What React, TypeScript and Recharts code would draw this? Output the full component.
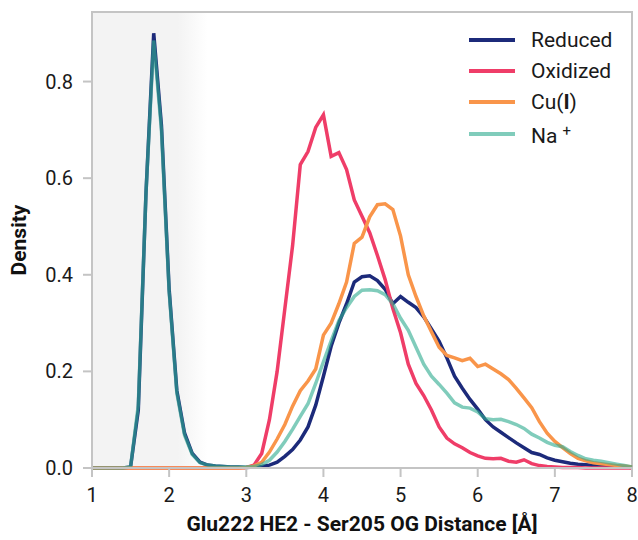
import React from "react";
import {
  LineChart,
  Line,
  XAxis,
  YAxis,
  ReferenceArea,
} from "recharts";

// distance bins (Å)
const distance = [
  1.0, 1.1, 1.2, 1.3, 1.4, 1.5, 1.6, 1.7, 1.8, 1.9,
  2.0, 2.1, 2.2, 2.3, 2.4, 2.5, 2.6, 2.7, 2.8, 2.9,
  3.0, 3.1, 3.2, 3.3, 3.4, 3.5, 3.6, 3.7, 3.8, 3.9,
  4.0, 4.1, 4.2, 4.3, 4.4, 4.5, 4.6, 4.7, 4.8, 4.9,
  5.0, 5.1, 5.2, 5.3, 5.4, 5.5, 5.6, 5.7, 5.8, 5.9,
  6.0, 6.1, 6.2, 6.3, 6.4, 6.5, 6.6, 6.7, 6.8, 6.9,
  7.0, 7.1, 7.2, 7.3, 7.4, 7.5, 7.6, 7.7, 7.8, 7.9, 8.0,
];

const reduced = [
  0, 0, 0, 0, 0, 0.002, 0.12, 0.57, 0.9, 0.71,
  0.37, 0.16, 0.072, 0.03, 0.012, 0.006, 0.004, 0.003, 0.002, 0.002,
  0.001, 0.002, 0.003, 0.006, 0.012, 0.024, 0.038, 0.058, 0.085, 0.13,
  0.19, 0.252, 0.3, 0.34, 0.385, 0.396, 0.398, 0.388, 0.37, 0.34,
  0.355, 0.343, 0.332, 0.313, 0.288, 0.262, 0.228, 0.19, 0.165, 0.142,
  0.122, 0.1, 0.085, 0.074, 0.063, 0.052, 0.042, 0.032, 0.028, 0.021,
  0.016, 0.013, 0.01, 0.008, 0.007, 0.005, 0.005, 0.004, 0.003, 0.002, 0.001,
];

const oxidized = [
  0, 0, 0, 0, 0, 0, 0, 0, 0, 0,
  0, 0, 0, 0, 0, 0, 0, 0, 0, 0,
  0.001, 0.006, 0.03, 0.1, 0.2, 0.33, 0.46, 0.628, 0.655, 0.705,
  0.731, 0.645, 0.653, 0.618, 0.555, 0.521, 0.487, 0.44, 0.39, 0.33,
  0.28, 0.215, 0.175, 0.15, 0.12, 0.085, 0.062, 0.05, 0.042, 0.032,
  0.025, 0.02, 0.019, 0.02, 0.014, 0.012, 0.017, 0.009, 0.005, 0.003,
  0.002, 0.001, 0.001, 0.001, 0, 0, 0, 0, 0, 0, 0,
];

const cuI = [
  0, 0, 0, 0, 0, 0, 0, 0, 0, 0,
  0, 0, 0, 0, 0, 0, 0, 0, 0, 0,
  0.001, 0.004, 0.012, 0.033, 0.06, 0.09, 0.128, 0.16, 0.18, 0.205,
  0.275, 0.3, 0.34, 0.385, 0.465, 0.478, 0.52, 0.545, 0.547, 0.535,
  0.48, 0.4, 0.355, 0.315, 0.282, 0.25, 0.233, 0.228, 0.222, 0.227,
  0.21, 0.215, 0.205, 0.195, 0.183, 0.165, 0.145, 0.125, 0.096, 0.072,
  0.055, 0.042, 0.03, 0.02, 0.015, 0.011, 0.009, 0.007, 0.005, 0.004, 0.002,
];

const sodium = [
  0, 0, 0, 0, 0, 0.002, 0.13, 0.57, 0.885, 0.7,
  0.365, 0.155, 0.068, 0.028, 0.011, 0.006, 0.004, 0.003, 0.002, 0.002,
  0.002, 0.003, 0.007, 0.016, 0.033, 0.055, 0.08, 0.107, 0.133, 0.175,
  0.22, 0.263, 0.305, 0.332, 0.355, 0.368, 0.369, 0.367, 0.359, 0.34,
  0.31, 0.285, 0.25, 0.215, 0.19, 0.173, 0.155, 0.135, 0.126, 0.124,
  0.116, 0.102, 0.1, 0.101, 0.096, 0.09, 0.082, 0.07, 0.062, 0.053,
  0.047, 0.044, 0.034, 0.026, 0.019, 0.016, 0.014, 0.011, 0.008, 0.005, 0.002,
];

const xTicks = [1, 2, 3, 4, 5, 6, 7, 8];
const yTicks = [0, 0.2, 0.4, 0.6, 0.8];

const data = distance.map((d, i) => ({
  d,
  reduced: reduced[i],
  oxidized: oxidized[i],
  cuI: cuI[i],
  sodium: sodium[i],
}));

const FONT = "Roboto, 'Noto Sans', sans-serif";
const AXIS = "#c4c4c4";

const series = [
  { key: "reduced", color: "#1c2a7a", opacity: 1 },
  { key: "oxidized", color: "#ef3d68", opacity: 1 },
  { key: "cuI", color: "#f9954a", opacity: 1 },
  { key: "sodium", color: "#32ad92", opacity: 0.62 },
];

const labelFor = (key: string) => {
  if (key === "reduced") return <span>Reduced</span>;
  if (key === "oxidized") return <span>Oxidized</span>;
  if (key === "cuI")
    return (
      <span>
        Cu(<b>I</b>)
      </span>
    );
  return (
    <span>
      Na
      <sup style={{ fontSize: 15, marginLeft: 5, verticalAlign: "0.45em" }}>+</sup>
    </span>
  );
};

const LegendBox = () => (
  <div
    style={{
      position: "absolute",
      left: 469,
      top: 24,
      fontFamily: FONT,
      fontSize: 21,
      color: "#1a1a1a",
    }}
  >
    {series.map((s) => (
      <div
        key={s.key}
        style={{ display: "flex", alignItems: "center", height: 31.3 }}
      >
        <div
          style={{
            width: 46,
            height: 4,
            background: s.color,
            opacity: s.opacity,
            marginRight: 16,
          }}
        />
        <div style={{ lineHeight: "24px" }}>{labelFor(s.key)}</div>
      </div>
    ))}
  </div>
);

export default function App() {
  return (
    <div
      style={{
        position: "absolute",
        left: 0,
        top: 0,
        width: 638,
        height: 540,
        background: "#fff",
      }}
    >
      <LineChart
        width={638}
        height={540}
        data={data}
        margin={{ top: 12, right: 6, bottom: 12, left: 10 }}
      >
        <defs>
          <linearGradient id="shade" x1="0" y1="0" x2="1" y2="0">
            <stop offset="0%" stopColor="#f3f3f3" />
            <stop offset="74%" stopColor="#f3f3f3" />
            <stop offset="100%" stopColor="#ffffff" />
          </linearGradient>
        </defs>
        <ReferenceArea
          x1={1}
          x2={2.5}
          y1={0}
          y2={0.944}
          fill="url(#shade)"
          fillOpacity={1}
          stroke="none"
        />
        <ReferenceArea
          x1={1}
          x2={8}
          y1={0}
          y2={0.944}
          fill="none"
          stroke={AXIS}
          strokeWidth={2}
        />
        <XAxis
          dataKey="d"
          type="number"
          domain={[1, 8]}
          ticks={xTicks}
          height={60}
          tickSize={9}
          tickMargin={11}
          axisLine={{ stroke: AXIS, strokeWidth: 2 }}
          tickLine={{ stroke: AXIS, strokeWidth: 2 }}
          tick={{ fill: "#1a1a1a", fontSize: 20, fontFamily: FONT }}
          label={{
            value: "Glu222 HE2 - Ser205 OG Distance [Å]",
            position: "insideBottom",
            offset: -3,
            style: {
              fontFamily: FONT,
              fontWeight: 700,
              fontSize: 21,
              fill: "#111",
            },
          }}
        />
        <YAxis
          type="number"
          domain={[0, 0.944]}
          ticks={yTicks}
          width={82}
          tickSize={9}
          tickMargin={10}
          tickFormatter={(v: number) => v.toFixed(1)}
          axisLine={{ stroke: AXIS, strokeWidth: 2 }}
          tickLine={{ stroke: AXIS, strokeWidth: 2 }}
          tick={{ fill: "#1a1a1a", fontSize: 20, fontFamily: FONT }}
          label={{
            value: "Density",
            angle: -90,
            position: "insideLeft",
            offset: 9,
            style: {
              fontFamily: FONT,
              fontWeight: 700,
              fontSize: 21,
              fill: "#111",
              textAnchor: "middle",
            },
          }}
        />
        {series.map((s) => (
          <Line
            key={s.key}
            dataKey={s.key}
            type="linear"
            stroke={s.color}
            strokeOpacity={s.opacity}
            strokeWidth={3.5}
            dot={false}
            activeDot={false}
            isAnimationActive={false}
          />
        ))}
      </LineChart>
      <LegendBox />
    </div>
  );
}
